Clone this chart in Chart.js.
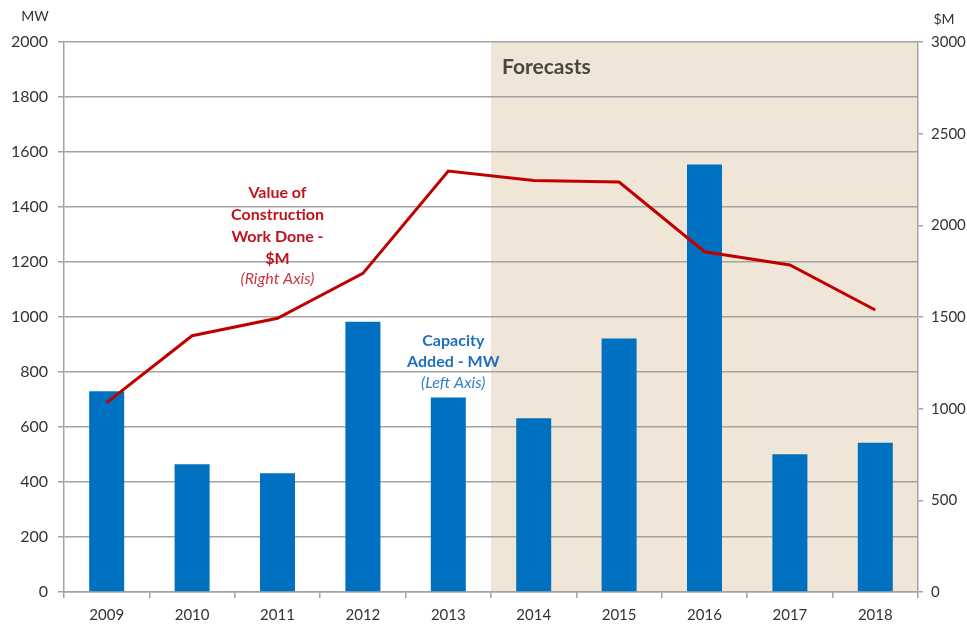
<!DOCTYPE html>
<html>
<head>
<meta charset="utf-8">
<script src="https://cdn.jsdelivr.net/npm/chart.js@4"></script>
<style>
  html, body { margin: 0; padding: 0; background: #ffffff; }
  #wrap { width: 967px; height: 626px; position: relative; }
</style>
</head>
<body>
<div id="wrap"><canvas id="c" width="967" height="626"></canvas></div>
<script>
// Years on the category axis
const years = ['2009', '2010', '2011', '2012', '2013', '2014', '2015', '2016', '2017', '2018'];
// Generation capacity added each year (MW, left axis)
const capacityMW = [730, 465, 432, 983, 707, 632, 922, 1555, 501, 543];
// Value of construction work done ($M, right axis)
const constructionValue = [1033, 1398, 1493, 1738, 2296, 2244, 2236, 1856, 1784, 1538];
// First forecast year
const firstForecastYear = '2014';

const FONT = 'Lato, "Open Sans", sans-serif';
const GRID = '#a3a3a3';
const TICK_TEXT = '#333333';

// Shaded forecast band, headline and series notes
const decorations = {
  id: 'decorations',
  beforeDraw(chart) {
    const { ctx, chartArea, scales } = chart;
    const x = scales.x;
    const idx = years.indexOf(firstForecastYear);
    const start = (x.getPixelForValue(idx - 1) + x.getPixelForValue(idx)) / 2;
    ctx.save();
    ctx.fillStyle = '#efe6d7';
    ctx.fillRect(start, chartArea.top, chartArea.right - start, chartArea.bottom - chartArea.top);
    ctx.restore();
  },
  afterDraw(chart) {
    const { ctx, chartArea, scales } = chart;
    const x = scales.x, y = scales.y;
    const idx = years.indexOf(firstForecastYear);
    const start = (x.getPixelForValue(idx - 1) + x.getPixelForValue(idx)) / 2;
    ctx.save();
    ctx.textBaseline = 'middle';

    // Forecast headline
    ctx.fillStyle = '#4b4738';
    ctx.font = 'bold 21px ' + FONT;
    ctx.textAlign = 'left';
    ctx.fillText('Forecasts', start + 11, y.getPixelForValue(1909));

    // Line series note
    const cx1 = x.getPixelForValue(2);
    ctx.textAlign = 'center';
    ctx.fillStyle = '#c0141c';
    ctx.font = 'bold 16px ' + FONT;
    const redLines = ['Value of', 'Construction', 'Work Done -', '$M'];
    redLines.forEach((t, i) => ctx.fillText(t, cx1, y.getPixelForValue(1450) + i * 22));
    ctx.font = 'italic 16px ' + FONT;
    ctx.fillStyle = '#c83a44';
    ctx.fillText('(Right Axis)', cx1, y.getPixelForValue(1450) + 4 * 22 - 2);

    // Bar series note
    const cx2 = x.getPixelForValue(4) + 5;
    ctx.fillStyle = '#1f6fbf';
    ctx.font = 'bold 16px ' + FONT;
    ctx.fillText('Capacity', cx2, y.getPixelForValue(915));
    ctx.fillText('Added - MW', cx2, y.getPixelForValue(915) + 21);
    ctx.font = 'italic 16px ' + FONT;
    ctx.fillStyle = '#3a7fc6';
    ctx.fillText('(Left Axis)', cx2, y.getPixelForValue(915) + 42);

    // Axis unit captions
    ctx.fillStyle = TICK_TEXT;
    ctx.font = '14px ' + FONT;
    ctx.textAlign = 'center';
    ctx.fillText('MW', chartArea.left - 29, chartArea.top - 26);
    ctx.fillText('$M', chartArea.right + 26, chartArea.top - 23);
    ctx.restore();
  }
};

const plain = v => String(v);

new Chart(document.getElementById('c'), {
  type: 'bar',
  data: {
    labels: years,
    datasets: [
      {
        type: 'line',
        label: 'Value of Construction Work Done - $M',
        data: constructionValue,
        yAxisID: 'y1',
        borderColor: '#c00000',
        borderWidth: 3,
        pointRadius: 0,
        tension: 0,
        order: 0
      },
      {
        type: 'bar',
        label: 'Capacity Added - MW',
        data: capacityMW,
        yAxisID: 'y',
        backgroundColor: '#0070c0',
        categoryPercentage: 1,
        barPercentage: 0.41,
        order: 1
      }
    ]
  },
  options: {
    responsive: false,
    animation: false,
    devicePixelRatio: 1,
    layout: { padding: { top: 42, left: 0, right: 0, bottom: 0 } },
    plugins: { legend: { display: false }, tooltip: { enabled: false } },
    scales: {
      x: {
        offset: true,
        grid: { display: true, drawOnChartArea: false, offset: true, tickLength: 6, color: GRID, lineWidth: 1.5 },
        border: { display: true, color: GRID, width: 1.5 },
        ticks: { color: TICK_TEXT, font: { family: FONT, size: 15 }, padding: 8 },
        afterFit(s) { s.height = 34; }
      },
      y: {
        position: 'left',
        min: 0, max: 2000,
        grid: { color: GRID, lineWidth: 1.5, tickLength: 6 },
        border: { display: true, color: GRID, width: 1.5 },
        ticks: { stepSize: 200, color: TICK_TEXT, font: { family: FONT, size: 16 }, padding: 10, callback: plain },
        afterFit(s) { s.width = 64; }
      },
      y1: {
        position: 'right',
        min: 0, max: 3000,
        grid: { drawOnChartArea: false, color: GRID, lineWidth: 1.5, tickLength: 5 },
        border: { display: true, color: GRID, width: 1.5 },
        ticks: { stepSize: 500, color: TICK_TEXT, font: { family: FONT, size: 15 }, padding: 8, callback: plain },
        afterFit(s) { s.width = 49; }
      }
    }
  },
  plugins: [decorations]
});
</script>
</body>
</html>
